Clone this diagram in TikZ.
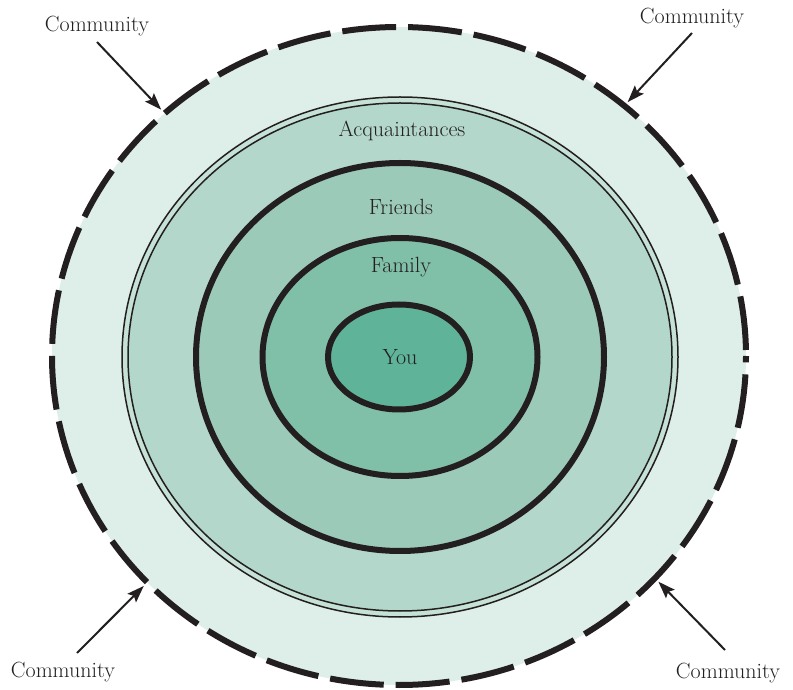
\documentclass[tikz,border=0pt]{standalone}
\usetikzlibrary{shapes.geometric,arrows.meta}
\definecolor{inkc}{HTML}{231F20}
\definecolor{commc}{HTML}{DEEEE8}
\definecolor{ringc}{HTML}{C6E2D7}
\definecolor{acqc}{HTML}{B3D7CB}
\definecolor{frc}{HTML}{9CCAB9}
\definecolor{famc}{HTML}{80BFA8}
\definecolor{youc}{HTML}{5FB398}
\tikzset{
  zone/.style={ellipse, inner sep=0pt, draw=inkc},
  thickzone/.style={zone, line width=6pt},
  thinzone/.style={zone, line width=1.5pt},
  lbl/.style={inner sep=0pt, text=inkc, font=\fontsize{22}{26}\selectfont},
  arr/.style={draw=inkc, line width=2pt, -{Stealth[length=17pt,width=12pt,inset=3pt]}, shorten >=2pt}
}
\begin{document}
\begin{tikzpicture}[x=1pt,y=1pt]
\useasboundingbox (0,0) rectangle (793,689);
% community
\node[zone, fill=commc, line width=6pt, dash pattern=on 54pt off 12pt, dash phase=60pt,
      minimum width=694pt, minimum height=658pt] (comm) at (399,333) {};
% acquaintances double ring
\node[thinzone, fill=ringc, minimum width=556pt, minimum height=520pt] (acqo) at (400,332) {};
\node[thinzone, fill=acqc, minimum width=544pt, minimum height=508pt] (acqi) at (400,332) {};
% friends
\node[thickzone, fill=frc, minimum width=408pt, minimum height=388pt] (fr) at (400,332) {};
% family
\node[thickzone, fill=famc, minimum width=275pt, minimum height=238pt] (fam) at (400,332) {};
% you
\node[thickzone, fill=youc, minimum width=142pt, minimum height=105pt] (you) at (399,332) {};
% labels
\node[lbl] (lyou) at (400,332) {You};
\node[lbl] (lfam) at (401,422) {Family};
\node[lbl] (lfr) at (401,482) {Friends};
\node[lbl] (lacq) at (402,558) {Acquaintances};
% community labels
\node[lbl] (ctl) at (97,663) {Community};
\node[lbl] (ctr) at (692,671) {Community};
\node[lbl] (cbl) at (63,17) {Community};
\node[lbl] (cbr) at (728,16) {Community};
\coordinate (stl) at (97,647);
\coordinate (str) at (692,656);
\coordinate (sbl) at (77,36);
\coordinate (sbr) at (725,39);
\draw[arr] (stl) -- (comm.134);
\draw[arr] (str) -- (comm.48);
\draw[arr] (sbl) -- (comm.222);
\draw[arr] (sbr) -- (comm.319);
\end{tikzpicture}
\end{document}
